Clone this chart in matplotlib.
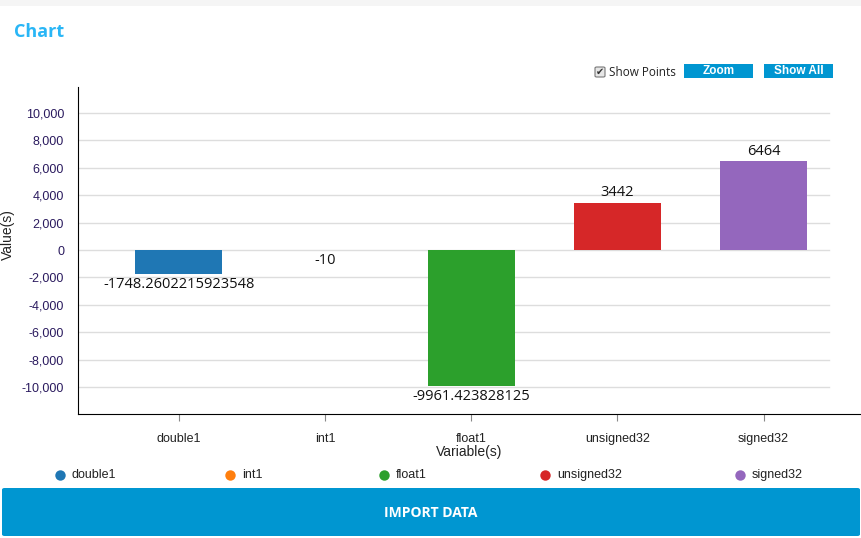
import matplotlib.pyplot as plt
from matplotlib.patches import Rectangle, FancyBboxPatch
from matplotlib.lines import Line2D
from matplotlib.ticker import FuncFormatter

variables = ["double1", "int1", "float1", "unsigned32", "signed32"]
values = [-1748.2602215923548, -10, -9961.423828125, 3442, 6464]
value_labels = ["-1748.2602215923548", "-10", "-9961.423828125", "3442", "6464"]
colors = ["#1f77b4", "#ff7f0e", "#2ca02c", "#d62728", "#9467bd"]
yticks = [-10000, -8000, -6000, -4000, -2000, 0, 2000, 4000, 6000, 8000, 10000]

W, H = 862, 538
fig = plt.figure(figsize=(W / 100, H / 100), dpi=100)
fig.patch.set_facecolor("white")


def fx(px):
    return px / W


def fy(py):
    return 1 - py / H


# grey strip at the very top
fig.patches.append(Rectangle((0, fy(6)), 1, 6 / H, transform=fig.transFigure,
                             facecolor="#f5f5f5", edgecolor="none"))
fig.text(fx(14), fy(32), "Chart", color="#29b6f6", fontsize=13, fontweight="bold",
         family="Open Sans", va="center", ha="left")

# controls
fig.patches.append(FancyBboxPatch((fx(595), fy(77)), 10 / W, 10 / H, transform=fig.transFigure,
                                  boxstyle="round,pad=0,rounding_size=0.002",
                                  facecolor="#e6e6e6", edgecolor="#777777", lw=0.8))
fig.text(fx(600), fy(71.5), "\u2714", fontsize=7, color="#333333", ha="center", va="center",
         family="DejaVu Sans")
fig.text(fx(609), fy(72), "Show Points", fontsize=8.5, color="#222222", va="center",
         family="Open Sans")
for x0, x1, lab in [(684, 753, "Zoom"), (764, 833, "Show All")]:
    fig.patches.append(Rectangle((fx(x0), fy(78)), (x1 - x0) / W, 14 / H,
                                 transform=fig.transFigure, facecolor="#0096d1", edgecolor="none"))
    fig.text(fx((x0 + x1) / 2), fy(71), lab, fontsize=8.5, color="white", fontweight="bold",
             ha="center", va="center", family="Liberation Sans")

# main axes
ax = fig.add_axes([fx(78), fy(414), fx(860) - fx(78), fy(87) - fy(414)])
x = list(range(len(variables)))
ax.bar(x, values, width=0.595, color=colors)
ax.set_xlim(-0.69, 4.66)
ax.set_ylim(-11970, 11900)
ax.set_yticks(yticks)
ax.yaxis.set_major_formatter(FuncFormatter(lambda v, p: f"{int(v):,}"))
ax.set_xticks(x)
ax.set_xticklabels(variables)
for t in ax.get_xticklabels() + ax.get_yticklabels():
    t.set_family("Liberation Sans")
    t.set_fontsize(9)
for t in ax.get_yticklabels():
    t.set_color("#2a1a5e")
for t in ax.get_xticklabels():
    t.set_color("#222222")
ax.tick_params(axis="y", length=0, pad=10)
ax.tick_params(axis="x", length=5, color="#888888", pad=9)
for s in ["top", "right"]:
    ax.spines[s].set_visible(False)
ax.spines["left"].set_color("black")
ax.spines["bottom"].set_color("black")
for yv in yticks:
    ax.plot([-0.69, 4.45], [yv, yv], color="#dddddd", lw=1, zorder=0)

for xi, v, lab in zip(x, values, value_labels):
    if v >= 0:
        ax.annotate(lab, (xi, v), xytext=(0, 2), textcoords="offset points",
                    ha="center", va="bottom", fontsize=10.5, family="Open Sans", color="#111111")
    else:
        ax.annotate(lab, (xi, v), xytext=(0, -2), textcoords="offset points",
                    ha="center", va="top", fontsize=10.5, family="Open Sans", color="#111111")

ax.set_xlabel("Variable(s)", fontsize=10, family="Liberation Sans", color="#222222", labelpad=0)
fig.text(fx(8), fy(235), "Value(s)", rotation=90, fontsize=10, family="Liberation Sans",
         color="#222222", ha="center", va="center")

# legend row
legend_x = [60, 230, 384, 545, 740]
for lx, name, c in zip(legend_x, variables, colors):
    fig.add_artist(Line2D([fx(lx)], [fy(475)], transform=fig.transFigure, marker="o",
                          markersize=7.5, color=c, markeredgewidth=0, linestyle="none"))
    fig.text(fx(lx + 12), fy(475), name, fontsize=9, family="Liberation Sans",
             color="#222222", va="center", ha="left")

# import button
fig.patches.append(FancyBboxPatch((fx(2), fy(536)), 858 / W, 48 / H, transform=fig.transFigure,
                                  boxstyle="round,pad=0,rounding_size=0.003",
                                  facecolor="#0096d1", edgecolor="none"))
fig.text(fx(431), fy(513), "IMPORT DATA", fontsize=10, color="white", fontweight="bold",
         ha="center", va="center", family="Open Sans")

fig.savefig("out.png", dpi=100)
